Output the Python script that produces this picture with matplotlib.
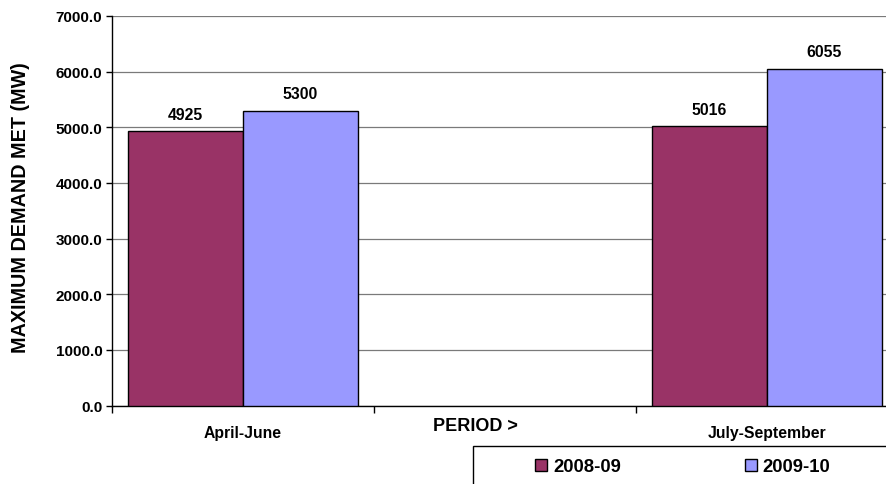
import matplotlib
matplotlib.use("Agg")
import matplotlib.pyplot as plt
import numpy as np
from matplotlib.patches import Rectangle

plt.rcParams['font.family'] = ['Liberation Sans', 'DejaVu Sans']
plt.rcParams['font.weight'] = 'bold'

categories = ['April-June', 'PERIOD >', 'July-September']
series_names = ['2008-09', '2009-10']
values_2008 = [4925, np.nan, 5016]
values_2009 = [5300, np.nan, 6055]
colors = ['#993366', '#9999FF']
yticks = [0, 1000, 2000, 3000, 4000, 5000, 6000, 7000]

W, H = 887, 485
fig = plt.figure(figsize=(W / 100, H / 100), dpi=100)
ax = fig.add_axes([112 / W, 1 - 406.5 / H, (898 - 112) / W, (406.5 - 17) / H])

x = np.arange(len(categories))
bw = 0.4375
bars = []
for i, (vals, c, name) in enumerate(zip([values_2008, values_2009], colors, series_names)):
    off = (i - 0.5) * bw
    b = ax.bar(x + off, vals, width=bw, color=c, edgecolor='black', linewidth=1.0,
               label=name, zorder=3)
    bars.append(b)
    for xi, v in zip(x, vals):
        if not np.isnan(v):
            ax.annotate(f"{int(v)}", (xi + off, v), xytext=(0, 12.5), textcoords='offset points',
                        ha='center', va='center', fontsize=11.3, fontweight='bold')

ax.set_xlim(-0.5, 2.5)
ax.set_ylim(0, 7000)
ax.set_yticks(yticks)
ax.set_yticklabels([f"{v:.1f}" for v in yticks], fontsize=11, fontweight='bold')
ax.yaxis.grid(True, color='#7a7a7a', linewidth=0.9, zorder=0)
ax.set_axisbelow(True)
ax.tick_params(axis='y', length=4, width=1, pad=3)

ax.set_xticks(x)
ax.set_xticklabels([categories[0], '', categories[2]], fontsize=11.3, fontweight='bold')
ax.set_xticks([-0.5, 0.5, 1.5, 2.5], minor=True)
ax.tick_params(axis='x', which='major', length=0, pad=14)
ax.tick_params(axis='x', which='minor', length=5, width=1)

# middle category label sits left of the category centre in the reference
fig.text(475.5 / W, 1 - 427 / H, categories[1], ha='center', va='center',
         fontsize=13, fontweight='bold')

for s in ['top', 'right']:
    ax.spines[s].set_visible(False)
for s in ['left', 'bottom']:
    ax.spines[s].set_linewidth(1.0)
    ax.spines[s].set_color('black')

fig.text(21 / W, 1 - 208 / H, 'MAXIMUM DEMAND MET (MW)', rotation=90, ha='center', va='center',
         fontsize=14.2, fontweight='bold')

rect = Rectangle((473 / W, -0.2), 1.0, 0.2 + (1 - 447 / H), transform=fig.transFigure,
                 fill=False, edgecolor='black', linewidth=1.0, clip_on=False)
fig.patches.append(rect)

leg = fig.legend(handles=bars, labels=series_names, loc='center left',
                 bbox_to_anchor=(535 / W, 1 - 468 / H), ncol=2, frameon=False,
                 fontsize=13.3, borderpad=0, handlelength=0.67, handleheight=0.67,
                 handletextpad=0.3, columnspacing=6.7, borderaxespad=0)
for t in leg.get_texts():
    t.set_fontweight('bold')

fig.savefig('out.png', dpi=100)
